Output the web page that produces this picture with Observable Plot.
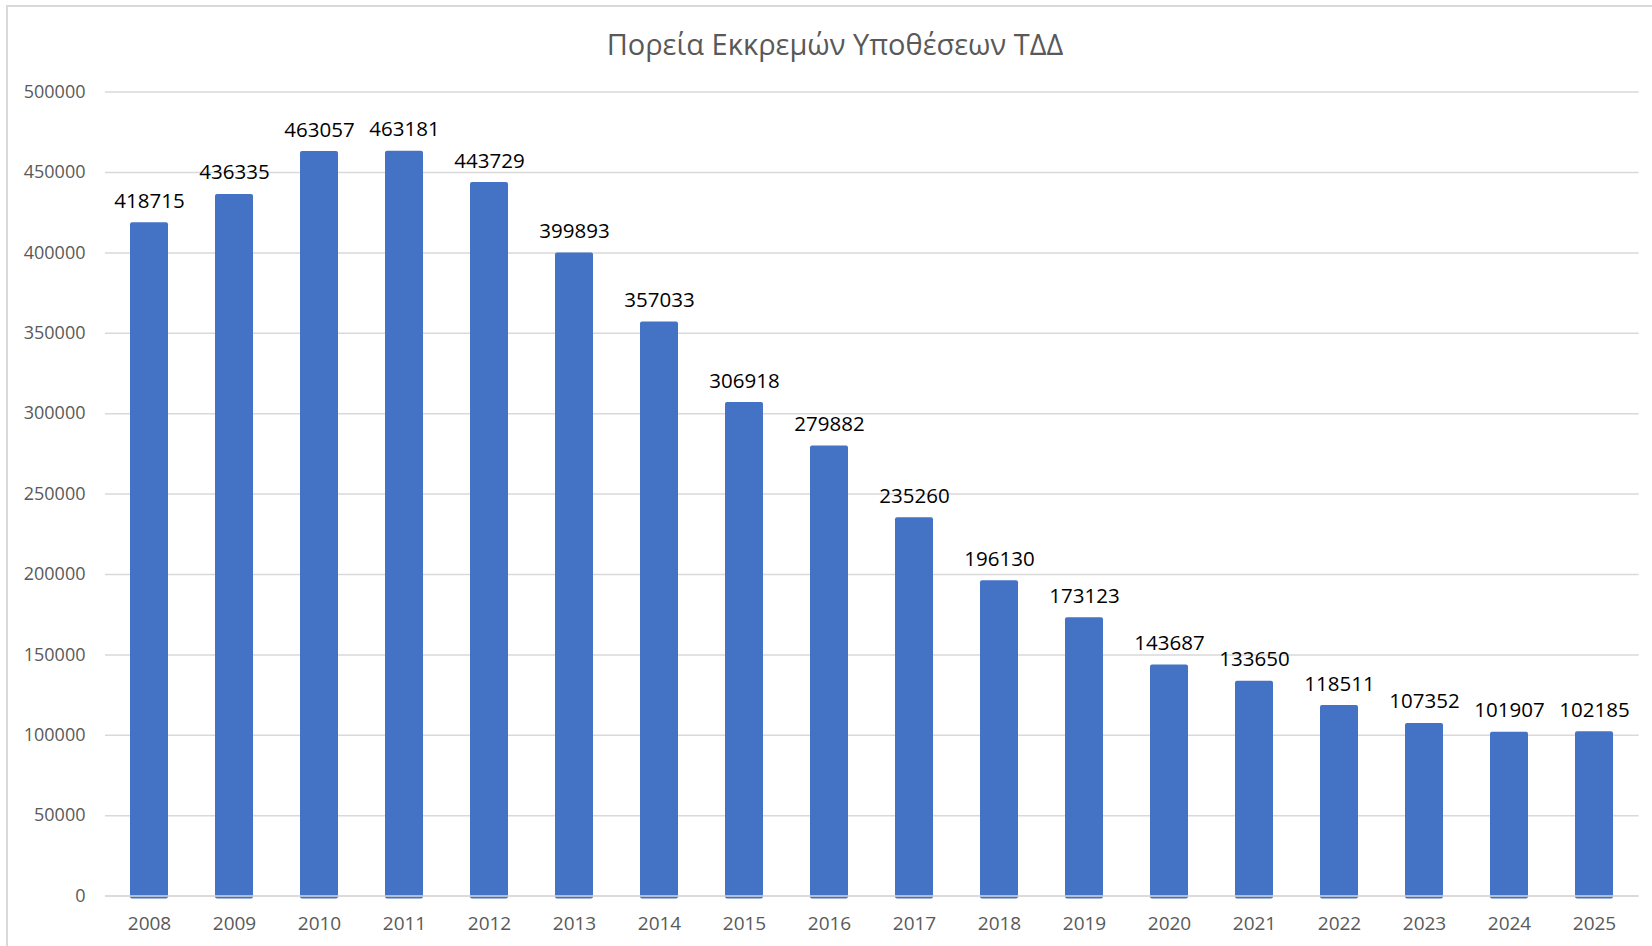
<!DOCTYPE html>
<html>
<head>
<meta charset="utf-8">
<script src="https://cdn.jsdelivr.net/npm/d3@7"></script>
<script src="https://cdn.jsdelivr.net/npm/@observablehq/plot@0.6"></script>
<style>
  html, body { margin: 0; padding: 0; background: #fff; overflow: hidden; }
  #wrap { position: relative; width: 1652px; height: 946px; overflow: hidden; font-family: "Open Sans", sans-serif; }
  #frame { position: absolute; left: 6px; top: 5px; width: 1700px; height: 1000px; border: 2px solid #d9d9d9; box-sizing: border-box; pointer-events: none; }
  #title { position: relative; height: 72px; box-sizing: border-box; padding-top: 22px; line-height: 44px; font-size: 29px; color: #595959; text-align: center; padding-left: 18px; }
  #chart { position: relative; }
</style>
</head>
<body>
<div id="wrap">
  <div id="frame"></div>
  <div id="title">Πορεία Εκκρεμών Υποθέσεων ΤΔΔ</div>
  <div id="chart"></div>
</div>
<script>
const years = ["2008","2009","2010","2011","2012","2013","2014","2015","2016","2017","2018","2019","2020","2021","2022","2023","2024","2025"];
const pending = [418715,436335,463057,463181,443729,399893,357033,306918,279882,235260,196130,173123,143687,133650,118511,107352,101907,102185];
const yTicks = [0,50000,100000,150000,200000,250000,300000,350000,400000,450000,500000];

const data = years.map((y, i) => ({year: y, value: pending[i]}));

const chart = Plot.plot({
  width: 1652,
  height: 874,
  marginLeft: 105,
  marginRight: 13.4,
  marginTop: 19.6,
  marginBottom: 50.4,
  style: {fontFamily: "'Open Sans', sans-serif", background: "transparent", overflow: "visible"},
  x: {domain: years, paddingInner: 0.55, paddingOuter: 0.275, label: null},
  y: {domain: [0, 500000], label: null},
  marks: [
    Plot.ruleY(yTicks, {stroke: "#d9d9d9", strokeWidth: 1.5}),
    Plot.barY(data, {x: "year", y: "value", fill: "#4472C4", rx: 2, insetBottom: -3}),
    Plot.ruleY([0], {stroke: "#d9d9d9", strokeWidth: 1.5}),
    Plot.text(data, {x: "year", y: "value", text: d => String(d.value), lineAnchor: "bottom", dy: -15, fontSize: 20.5, fill: "#000"}),
    Plot.axisY({ticks: yTicks, tickFormat: "d", tickSize: 0, tickPadding: 20, fontSize: 18, color: "#595959", label: null}),
    Plot.axisX({tickSize: 0, tickPadding: 20, fontSize: 19, color: "#595959", label: null})
  ]
});
document.getElementById("chart").appendChild(chart);
</script>
</body>
</html>
